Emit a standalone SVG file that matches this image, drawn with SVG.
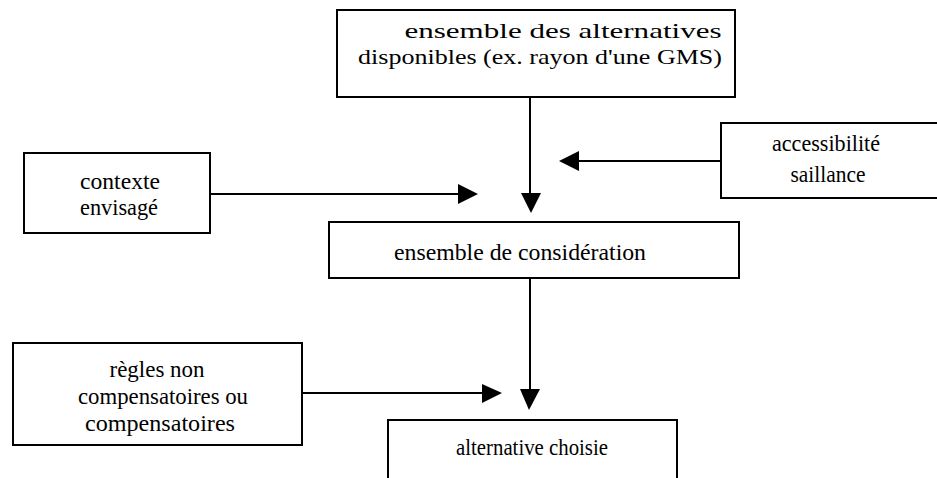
<svg xmlns="http://www.w3.org/2000/svg" width="937" height="478" viewBox="0 0 937 478">
<style>
.box{fill:#fff;stroke:#000;stroke-width:2}
.t{font-family:"Liberation Serif","DejaVu Serif",serif;font-size:24px;fill:#000;text-anchor:middle}
.s{font-size:21px}
.ln{stroke:#000;stroke-width:2;fill:none}
.ah{fill:#000;stroke:none}
</style>
<rect width="937" height="478" fill="#fff"/>
<g id="alternatives">
<rect class="box" x="337" y="10" width="398" height="87"/>
<text class="t s" x="563" y="38" textLength="317" lengthAdjust="spacingAndGlyphs">ensemble des alternatives</text>
<text class="t s" x="540" y="64" textLength="364" lengthAdjust="spacingAndGlyphs">disponibles (ex. rayon d'une GMS)</text>
</g>
<g id="accessibilite">
<rect class="box" x="721" y="123" width="220" height="75"/>
<text class="t" x="826" y="151" textLength="108" lengthAdjust="spacingAndGlyphs">accessibilité</text>
<text class="t" x="828" y="182" textLength="75" lengthAdjust="spacingAndGlyphs">saillance</text>
</g>
<g id="contexte">
<rect class="box" x="24" y="153" width="186" height="80"/>
<text class="t" x="120" y="189" textLength="80" lengthAdjust="spacingAndGlyphs">contexte</text>
<text class="t" x="119" y="215" textLength="78" lengthAdjust="spacingAndGlyphs">envisagé</text>
</g>
<g id="consideration">
<rect class="box" x="329" y="222" width="410" height="56"/>
<text class="t" x="520" y="260" textLength="252" lengthAdjust="spacingAndGlyphs">ensemble de considération</text>
</g>
<g id="regles">
<rect class="box" x="13" y="343" width="289" height="102"/>
<text class="t" x="157" y="377" textLength="95" lengthAdjust="spacingAndGlyphs">règles non</text>
<text class="t" x="163" y="404" textLength="170" lengthAdjust="spacingAndGlyphs">compensatoires ou</text>
<text class="t" x="160" y="431" textLength="150" lengthAdjust="spacingAndGlyphs">compensatoires</text>
</g>
<g id="choisie">
<path class="ln" d="M388,482 V420 H677 V482"/>
<text class="t" x="532" y="455" textLength="152" lengthAdjust="spacingAndGlyphs">alternative choisie</text>
</g>
<g id="connectors">
<line class="ln" x1="530" y1="97" x2="530" y2="195"/>
<polygon class="ah" points="521,193 541,193 531,213"/>
<line class="ln" x1="721" y1="161" x2="577" y2="161"/>
<polygon class="ah" points="579,151 579,171 559,161"/>
<line class="ln" x1="210" y1="194" x2="460" y2="194"/>
<polygon class="ah" points="458,184 458,204 478,194"/>
<line class="ln" x1="530" y1="278" x2="530" y2="392"/>
<polygon class="ah" points="520,389 540,389 529,410"/>
<line class="ln" x1="302" y1="393" x2="484" y2="393"/>
<polygon class="ah" points="482,384 482,403 502,393"/>
</g>
</svg>
